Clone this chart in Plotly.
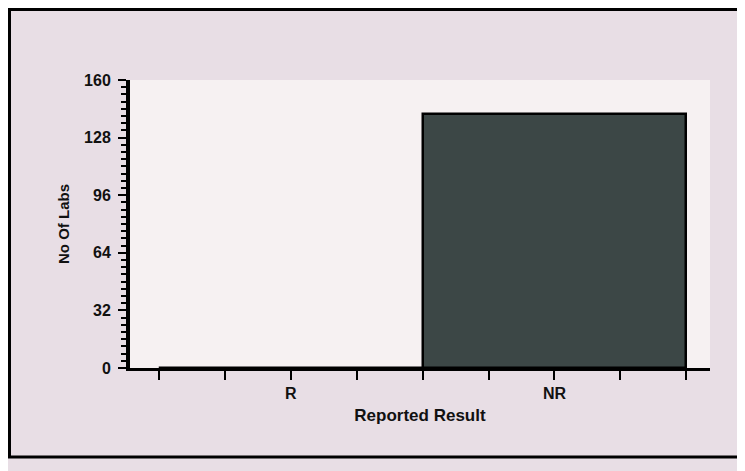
import plotly.graph_objects as go

categories = ["R", "NR"]
no_of_labs = [0, 141]
y_ticks = [0, 32, 64, 96, 128, 160]

# the page adds an 8px body margin, so the figure is sized to fill the rest
W, H = 737, 463
L, R, T, B = 122, 35, 72, 103
pw, ph = W - L - R, H - T - B

xpos = list(range(len(categories)))

fig = go.Figure()
fig.add_trace(go.Bar(
    x=xpos, y=no_of_labs, width=1.0,
    marker=dict(color="#3c4746", line=dict(color="black", width=2.5)),
    showlegend=False,
))

def px_x(p):
    return (p - L) / pw

def px_y(p):
    return (H - B - p) / ph

bold = dict(family="Liberation Sans", color="#111111", weight=700)

fig.update_layout(
    width=W, height=H,
    margin=dict(l=L, r=R, t=T, b=B),
    paper_bgcolor="#e8dee5",
    plot_bgcolor="#f6f1f2",
    font=dict(family="Liberation Sans", size=14, color="#111111"),
    xaxis=dict(
        range=[-0.61, 1.59],
        tickvals=xpos, ticktext=categories,
        ticks="outside", ticklen=9, tickwidth=2, tickcolor="black",
        minor=dict(dtick=0.25, tick0=0, ticks="outside", ticklen=9,
                   tickwidth=2, tickcolor="black"),
        showline=True, linecolor="black", linewidth=3,
        showgrid=False, zeroline=False,
        tickfont=dict(size=16, **bold),
        title=dict(text="Reported Result", font=dict(size=17, **bold), standoff=8),
    ),
    yaxis=dict(
        range=[0, 160],
        tickvals=y_ticks,
        ticks="outside", ticklen=8, tickwidth=2, tickcolor="black",
        ticklabelstandoff=4,
        minor=dict(dtick=4, ticks="outside", ticklen=5, tickwidth=2,
                   tickcolor="black"),
        showline=True, linecolor="black", linewidth=4,
        showgrid=False, zeroline=False,
        tickfont=dict(size=16, **bold),
        title=dict(text="No Of Labs", font=dict(size=15, **bold), standoff=12),
    ),
    shapes=[dict(
        type="rect", xref="paper", yref="paper",
        x0=px_x(1.5), x1=px_x(W + 5), y0=px_y(449), y1=px_y(1.5),
        line=dict(color="black", width=3), layer="below",
    )],
    bargap=0,
)

fig.write_html("out.html")
